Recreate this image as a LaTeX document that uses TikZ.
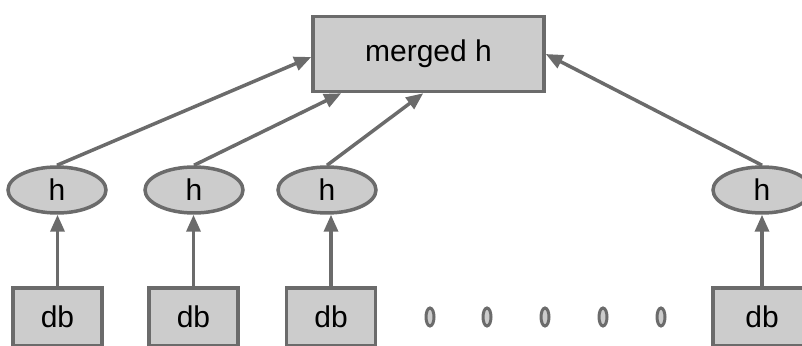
\documentclass[tikz,border=0pt]{standalone}
\usepackage{fontspec}
\setmainfont{Liberation Sans}
\usetikzlibrary{arrows.meta,shapes.geometric}

\definecolor{edgegray}{HTML}{6B6B6B}
\definecolor{fillgray}{HTML}{CCCCCC}

\begin{document}
\begin{tikzpicture}[x=1pt,y=1pt,
  every node/.style = {draw = edgegray, fill = fillgray, line width = 3.5pt,
    inner sep = 0pt, font = \fontsize{30}{30}\selectfont},
  box/.style = {rectangle, minimum width = 89, minimum height = 58},
  hash/.style = {ellipse, minimum width = 98, minimum height = 46},
  gap/.style = {ellipse, minimum width = 8, minimum height = 18, line width = 3pt},
  link/.style = {draw = edgegray, line width = 3.5pt,
    -{Triangle[length = 17pt, width = 14pt]}}]
\useasboundingbox (0,0) rectangle (802,345);
\node[rectangle, minimum width = 231, minimum height = 75] (merged) at (428.5,291) {merged h};
\node[hash] (h1) at (57,155) {h};
\node[hash] (h2) at (194,155) {h};
\node[hash] (h3) at (327,155) {h};
\node[hash] (h4) at (762,155) {h};
\node[box] (db1) at (57.5,28) {db};
\node[box] (db2) at (193.5,28) {db};
\node[box] (db3) at (331,28) {db};
\node[box, minimum width = 98] (db4) at (762,28) {db};
\foreach \i/\x in {1/430,2/487,3/545,4/603,5/661}
  \node[gap] (dot\i) at (\x,28) {};
\coordinate (m1) at ([yshift=-3]merged.west);
\coordinate (m2) at ([xshift=30]merged.south west);
\coordinate (m3) at ([xshift=112]merged.south west);
\coordinate (m4) at (merged.east);
\draw[link] (h1.north) -- (m1);
\draw[link] (h2.north) -- (m2);
\draw[link] (h3.north) -- (m3);
\draw[link] (h4.north) -- (m4);
\foreach \i in {1,2,3}
  \draw[link] (db\i.north) -- (db\i.north |- h\i.south);
\draw[link] (db4.north) -- (h4.south);
\end{tikzpicture}
\end{document}
